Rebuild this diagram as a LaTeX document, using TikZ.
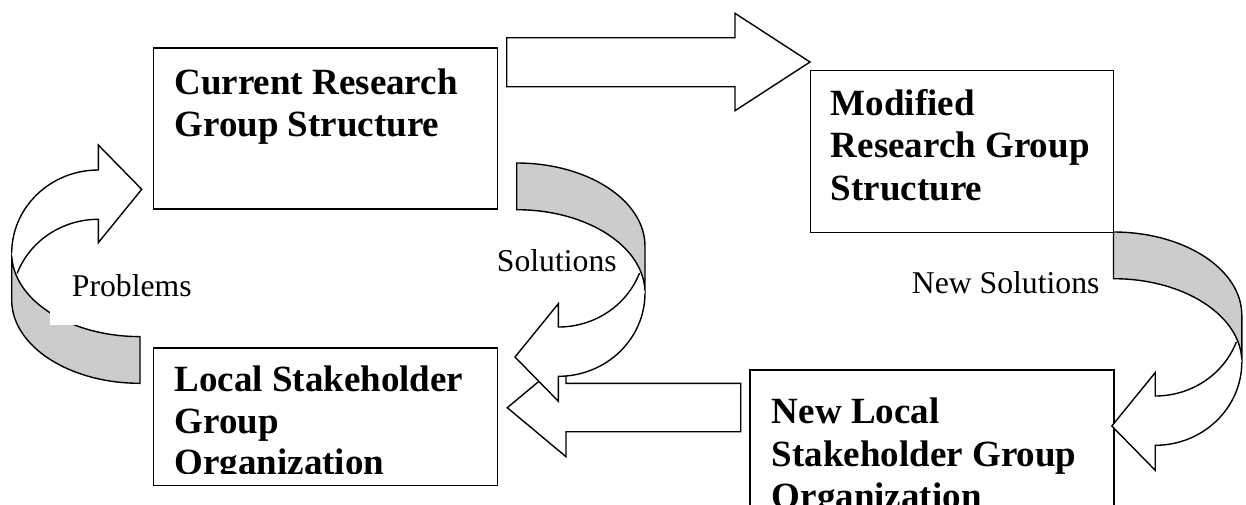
\documentclass[tikz,border=0pt]{standalone}
\usepackage{fontspec}
\setmainfont{Liberation Serif}
\begin{document}
\begin{tikzpicture}[x=1pt,y=-1pt,
  outline/.style={draw=black,line width=1.4pt,line join=miter},
  box/.style={draw=black,line width=1.4pt,rectangle,inner sep=0pt,anchor=north west},
  boxtext/.style={anchor=base west,inner sep=0pt,align=left,
    font=\fontsize{37}{42.5}\selectfont\bfseries},
  labeltext/.style={anchor=base west,inner sep=0pt,
    font=\fontsize{31.7}{38}\selectfont},
  backside/.style={fill=black!20}]

% curved block arrow: shaded back band plus white front band with head
\newcommand{\curvedbandarrow}{%
  \path[outline,backside] (11.7,253.3) -- (11.7,300)
    .. controls (11.7,346) and (69.1,383.3) .. (140,383.3)
    -- (140,336.6)
    .. controls (69.1,336.6) and (11.7,299.3) .. cycle;
  \fill[white] (11.7,253.3)
    .. controls (11.7,207.3) and (50.5,170) .. (98.3,170)
    -- (98.3,145) -- (141.7,189.3) -- (98.3,242.7) -- (98.3,219.3)
    .. controls (62.2,219.3) and (29.9,240.8) .. (17.2,273.3) -- cycle;
  \draw[outline] (11.7,253.3)
    .. controls (11.7,207.3) and (50.5,170) .. (98.3,170)
    -- (98.3,145) -- (141.7,189.3) -- (98.3,242.7) -- (98.3,219.3)
    .. controls (62.2,219.3) and (29.9,240.8) .. (17.2,273.3);
}

\useasboundingbox (0,0) rectangle (1246,504);
\clip (0,0) rectangle (1246,504);
\fill[white] (0,0) rectangle (1246,504);

% boxes
\node[box,minimum width=344pt,minimum height=161pt] (cur) at (152.7,47.3) {};
\node[box,minimum width=302.7pt,minimum height=161.7pt] (mod) at (810,70) {};
\node[box,minimum width=344pt,minimum height=137.7pt] (loc) at (152.7,347.3) {};
\node[box,minimum width=364pt,minimum height=170pt] (newloc) at (749.3,369.3) {};

% box texts (placed by the baseline of their last line)
\node[boxtext] (curtext) at (174.3,136.5) {Current Research\\Group Structure};
\node[boxtext] (modtext) at (830.7,200) {Modified\\Research Group\\Structure};
\begin{scope}
  \clip (152.7,347.3) rectangle (496.7,473.3);
  \node[boxtext,font=\fontsize{37}{41.5}\selectfont\bfseries] (loctext) at (174.3,474.7)
    {Local Stakeholder\\Group\\Organization};
\end{scope}
\node[boxtext] (newloctext) at (771.7,508.5) {New Local\\Stakeholder Group\\Organization};

% straight block arrows
\path[outline,fill=white] (506.7,37.7) -- (735,37.7) -- (735,13.3) -- (810,62)
  -- (735,110.7) -- (735,86.7) -- (506.7,86.7) -- cycle;
\path[outline,fill=white] (740.7,383.3) -- (566,383.3) -- (566,358.7) -- (507.3,407.7)
  -- (566,456.7) -- (566,431.7) -- (740.7,431.7) -- cycle;

% curved block arrows
\curvedbandarrow
\begin{scope}[shift={(656.7,546.3)},rotate=180]
  \curvedbandarrow
\end{scope}
\begin{scope}[shift={(1253.5,615.3)},rotate=180]
  \curvedbandarrow
\end{scope}

% labels
\node[labeltext,fill=white,inner xsep=21.7pt,inner ysep=0pt,text height=30pt,text depth=29pt,
  anchor=base west] (problems) at (50,296) {Problems};
\node[labeltext] (solutions) at (496.7,271.7) {Solutions};
\node[labeltext] (newsolutions) at (911.7,293.3) {New Solutions};
\end{tikzpicture}
\end{document}
